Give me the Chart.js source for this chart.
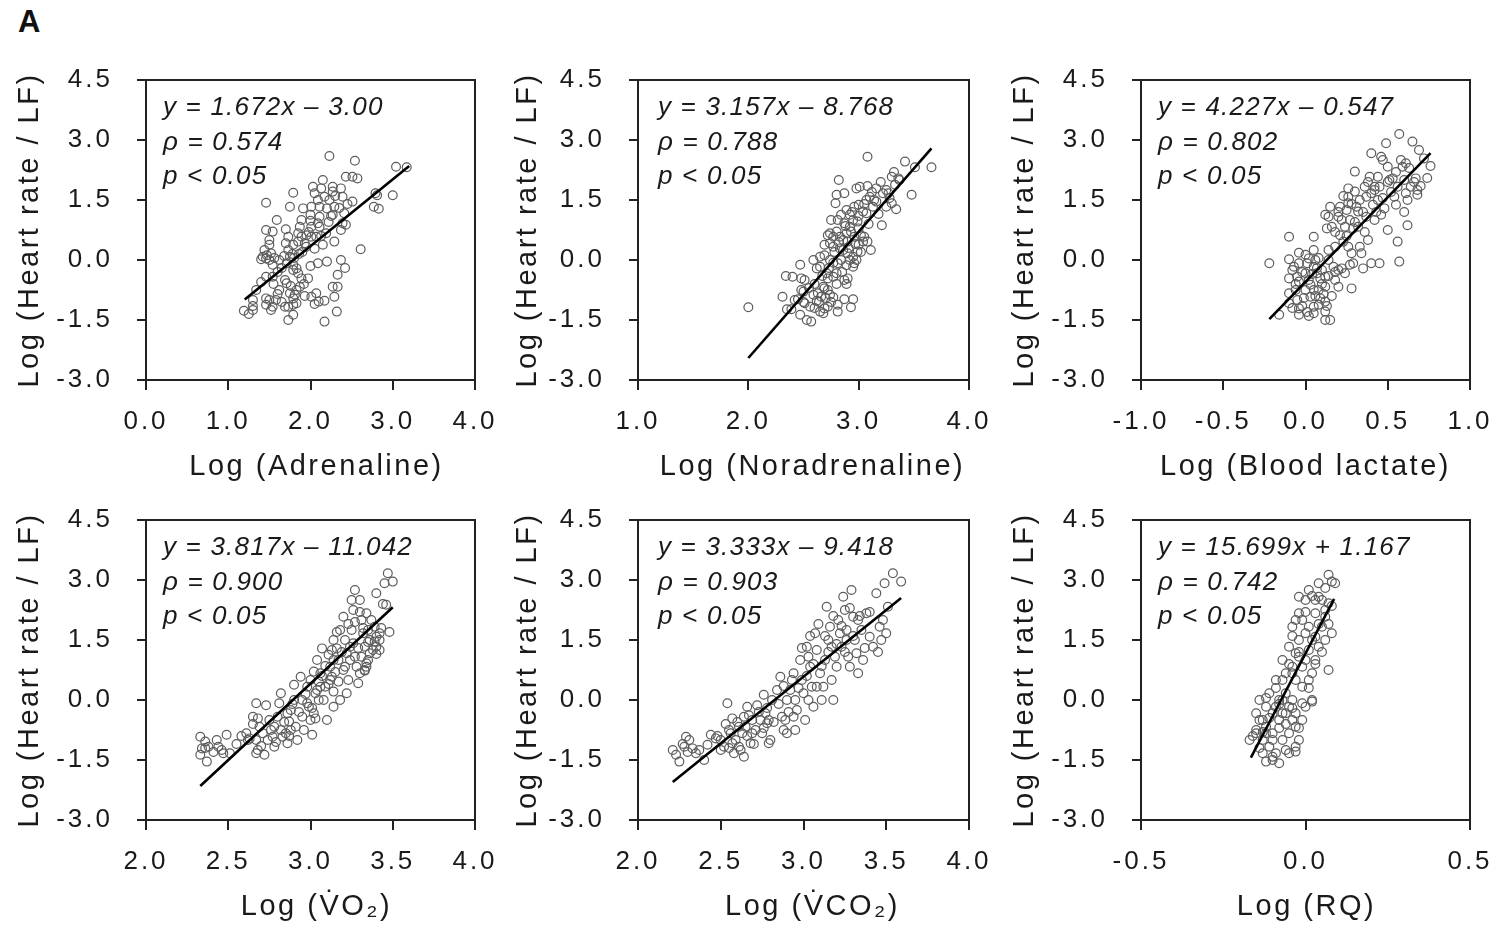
<!DOCTYPE html>
<html><head><meta charset="utf-8">
<script src="https://cdn.jsdelivr.net/npm/chart.js@4/dist/chart.umd.min.js"></script>
<style>
html,body{margin:0;padding:0;background:#fff;}
body{width:1496px;height:931px;position:relative;overflow:hidden;}
canvas{position:absolute;}
#lab{position:absolute;left:18px;top:6px;font:bold 31px "Liberation Sans",Arial,sans-serif;line-height:31px;color:#111;}
</style></head><body>
<div id="lab">A</div>
<canvas id="c1" width="500" height="490" style="left:0px;top:0px"></canvas>
<canvas id="c2" width="502" height="490" style="left:492px;top:0px"></canvas>
<canvas id="c3" width="500" height="490" style="left:995px;top:0px"></canvas>
<canvas id="c4" width="500" height="490" style="left:0px;top:440px"></canvas>
<canvas id="c5" width="502" height="490" style="left:492px;top:440px"></canvas>
<canvas id="c6" width="500" height="490" style="left:995px;top:440px"></canvas>
<script>
// ---------- shared ----------
const yTickValues = [-3.0, -1.5, 0.0, 1.5, 3.0, 4.5];
const yAxisTitle = 'Log (Heart rate / LF)';

// ---------- Panel 1: Adrenaline ----------
const adrenalineTicks = [0.0, 1.0, 2.0, 3.0, 4.0];
const adrenalineX = [2.23,2.54,3.04,3.17,2.43,2.51,2.57,2.15,2.03,2.13,2.27,2.37,1.79,2.79,3.0,2.05,2.17,2.27,2.39,1.46,1.75,2.09,2.23,2.51,2.77,2.83,1.91,2.01,2.11,2.2,2.29,2.27,2.41,2.0,2.11,1.89,2.0,2.09,1.59,2.39,2.43,1.87,2.01,2.11,2.19,2.37,1.46,1.54,1.7,1.73,1.85,1.89,1.95,2.01,2.07,1.85,1.95,2.29,2.15,1.5,1.5,1.7,1.79,2.61,1.44,1.52,1.42,1.46,1.73,1.75,1.4,1.5,1.62,1.71,1.79,1.83,2.0,2.2,2.37,2.09,1.54,1.79,1.85,1.89,1.97,1.46,1.54,1.69,1.71,2.33,1.87,1.83,2.27,2.33,1.62,1.34,1.75,1.81,2.01,2.07,2.29,1.3,1.46,1.5,1.58,1.79,2.1,2.17,1.46,1.54,1.3,1.69,1.73,1.79,1.83,1.19,1.25,1.3,1.52,1.79,2.32,1.73,2.17,2.81,1.9,1.78,1.92,1.6,
  1.47,1.56,1.65,1.68,1.8,1.86,1.93,1.98,2.05,2.13,2.22,2.25,2.3,2.45,2.35,1.6,1.65,1.76,1.93,2.05,1.4,1.55,2.42];
const adrenalineY = [2.6,2.48,2.33,2.32,2.08,2.08,2.04,2.0,1.83,1.79,1.83,1.79,1.68,1.67,1.62,1.67,1.58,1.71,1.58,1.43,1.33,1.5,1.5,1.46,1.33,1.28,1.29,1.33,1.33,1.29,1.33,1.13,1.17,1.13,1.08,1.0,0.98,0.92,1.0,0.92,0.88,0.83,0.83,0.83,0.67,0.75,0.75,0.71,0.77,0.58,0.67,0.58,0.62,0.58,0.58,0.46,0.33,0.46,0.38,0.5,0.38,0.42,0.38,0.27,0.25,0.17,0.08,0.04,0.25,0.08,0.02,0.0,0.0,-0.08,-0.12,-0.21,-0.15,-0.04,0.0,-0.08,-0.12,-0.25,-0.33,-0.46,-0.46,-0.42,-0.42,-0.5,-0.58,-0.37,-0.67,-0.75,-0.67,-0.67,-0.75,-0.75,-0.83,-0.87,-0.92,-0.83,-0.92,-1.0,-0.96,-1.0,-1.0,-0.96,-1.04,-1.02,-1.12,-1.17,-1.15,-1.17,-1.17,-1.12,-1.08,-1.27,-1.35,-1.25,-1.25,-1.37,-1.29,-1.5,-1.54,1.62,0.2,0.15,-0.6,-0.3,
  0.12,0.05,-0.2,0.1,0.05,0.15,0.42,0.7,0.28,0.6,0.95,1.1,1.6,1.4,1.3,-0.85,-1.05,-0.65,-0.9,-1.1,-0.55,-0.6,-0.2];
const adrenalineFitX = [1.20, 3.20];
const adrenalineFitY = [-0.99, 2.35];
const adrenalineStats = ['y = 1.672x \u2013 3.00', '\u03C1 = 0.574', 'p < 0.05'];

// ---------- Panel 2: Noradrenaline ----------
const noradrenalineTicks = [1.0, 2.0, 3.0, 4.0];
const noradrenalineX = [2.0,2.31,2.34,2.4,2.47,2.59,2.48,2.51,2.35,2.39,2.42,2.45,2.48,2.5,2.47,2.53,2.57,2.51,2.56,2.6,2.59,2.63,2.66,2.65,2.68,2.62,2.69,2.72,2.68,2.69,2.72,2.74,2.77,2.81,2.81,2.87,2.93,2.95,2.72,2.71,2.65,2.62,2.77,2.8,2.87,2.9,2.89,2.65,2.69,2.74,2.77,2.81,2.84,2.89,2.92,2.95,2.96,2.98,2.95,2.69,2.74,2.77,2.83,2.86,2.9,2.99,3.0,3.04,3.08,3.11,2.72,2.74,2.77,2.8,2.83,2.86,2.89,2.93,2.96,3.02,3.05,2.75,2.81,2.87,2.95,2.92,2.99,3.0,2.84,2.89,2.92,2.96,3.0,3.04,3.07,3.07,3.1,3.14,3.16,3.21,3.25,3.34,3.3,3.16,3.22,3.25,3.08,2.98,3.01,3.3,3.36,3.37,3.42,3.51,3.66,3.48,3.08,2.82,2.8,2.79,2.87,3.27,3.33,3.13,2.9,
  2.6,2.64,2.67,2.7,2.73,2.75,2.78,2.8,2.82,2.85,2.88,2.91,2.94,2.97,3.0,3.02,3.05,3.09,3.12,3.18,3.2,3.28,3.32,2.55,2.5];
const noradrenalineY = [-1.18,-0.92,-0.4,-0.42,-0.12,0.0,-0.46,-0.5,-1.23,-1.23,-1.0,-0.98,-0.75,-0.79,-1.37,-1.5,-1.54,-1.08,-1.17,-1.2,-0.87,-0.83,-0.92,-1.29,-1.33,-1.02,-1.21,-1.17,-0.67,-0.71,-0.75,-0.87,-0.93,-1.29,-1.12,-0.98,-1.18,-0.98,-0.46,-0.33,-0.17,-0.21,-0.42,-0.33,-0.5,-0.46,-0.6,0.08,0.12,0.0,-0.07,-0.08,0.0,-0.13,0.0,0.08,-0.08,0.0,-0.17,0.38,0.42,0.33,0.29,0.25,0.17,0.21,0.38,0.46,0.46,0.25,0.62,0.67,0.58,0.71,0.58,0.5,0.67,0.71,0.58,0.62,0.58,1.0,1.0,0.92,1.0,0.83,0.96,0.79,1.13,1.25,1.13,1.33,1.38,1.21,1.17,1.5,1.58,1.5,1.46,0.87,1.33,1.27,1.42,1.79,1.67,1.75,1.85,1.79,1.83,2.08,2.04,2.0,2.46,2.32,2.32,1.63,2.58,2.0,1.63,1.42,1.67,1.67,1.88,1.33,0.46,
  -0.6,-1.05,-0.4,-0.95,-0.2,-1.05,0.2,-0.6,0.45,-0.3,0.85,0.3,1.2,0.4,1.1,0.2,1.4,0.9,1.7,1.15,1.95,1.55,2.2,-0.7,-1.05];
const noradrenalineFitX = [2.00, 3.66];
const noradrenalineFitY = [-2.45, 2.79];
const noradrenalineStats = ['y = 3.157x \u2013 8.768', '\u03C1 = 0.788', 'p < 0.05'];

// ---------- Panel 3: Blood lactate ----------
const lactateTicks = [-1.0, -0.5, 0.0, 0.5, 1.0];
const lactateX = [-0.22,-0.16,-0.1,-0.1,-0.1,-0.1,-0.1,-0.07,-0.04,-0.04,-0.05,-0.04,-0.06,-0.05,-0.04,-0.04,0.0,0.01,0.02,0.0,0.02,0.0,0.03,0.05,0.05,0.05,0.05,0.05,0.05,0.09,0.08,0.09,0.08,0.12,0.13,0.12,0.12,0.12,0.12,0.12,0.15,0.14,0.14,0.15,0.16,0.18,0.17,0.2,0.21,0.22,0.24,0.21,0.23,0.22,0.24,0.2,0.26,0.26,0.25,0.27,0.29,0.26,0.28,0.27,0.29,0.28,0.3,0.3,0.31,0.32,0.33,0.34,0.35,0.36,0.37,0.37,0.38,0.39,0.4,0.4,0.41,0.42,0.4,0.44,0.45,0.45,0.46,0.47,0.49,0.5,0.46,0.48,0.5,0.53,0.54,0.55,0.56,0.56,0.57,0.57,0.58,0.59,0.61,0.62,0.6,0.61,0.62,0.64,0.65,0.69,0.67,0.68,0.68,0.72,0.76,0.14,0.2,0.06,0.18,0.32,0.26,0.42,0.51,0.44,0.07,
  -0.08,-0.06,-0.02,-0.01,0.01,0.03,0.04,0.06,0.07,0.08,0.1,0.1,0.11,0.13,0.14,-0.08,-0.02,0.02,0.16,0.18,0.18,0.2,0.23,0.25,0.28,0.3,0.33,0.35,0.36,0.38,0.42,0.43,0.47,0.5,0.52,0.55,0.6,0.63,0.66,0.7,0.74];
const lactateY = [-0.08,-1.37,0.58,0.02,-0.46,-0.83,-1.08,-0.17,0.18,-0.08,-0.42,-0.54,-0.75,-1.0,-1.21,-1.37,0.13,-0.08,0.04,-0.33,-0.5,-0.75,-0.92,0.58,0.25,-0.17,-0.75,-1.17,-1.33,-0.46,-0.75,-0.96,-1.12,1.13,0.79,-0.42,-0.67,-1.04,-1.29,-1.5,-1.5,0.25,0.0,1.33,0.83,0.33,-0.17,-0.67,1.33,1.0,0.83,0.62,0.46,-0.21,-0.33,-0.25,1.79,1.58,1.25,1.0,0.79,0.33,0.17,-0.12,-0.08,-0.71,2.21,1.71,1.33,1.21,0.33,0.17,-0.21,1.83,1.58,1.08,0.5,2.08,1.67,-0.08,1.38,1.0,2.67,2.08,1.83,-0.08,2.58,2.5,2.92,2.33,1.13,1.29,0.75,2.04,1.58,1.38,1.83,0.46,-0.04,3.15,2.5,2.33,2.42,0.87,2.0,1.67,1.5,1.83,2.96,2.75,2.04,1.75,1.63,2.54,2.35,1.08,1.08,0.0,-0.5,0.83,1.42,1.83,2.0,1.5,-0.33,
  -0.25,-0.6,-0.3,-0.95,-1.3,-0.62,-0.35,-0.9,-0.2,0.05,-0.25,-0.6,-0.85,-1.15,-0.4,-1.2,-1.15,-1.4,-0.9,-0.3,0.7,1.2,1.6,0.6,1.4,0.95,1.5,1.2,0.7,1.95,1.75,1.2,1.55,1.95,1.7,2.2,1.2,2.3,1.95,1.85,2.05];
const lactateFitX = [-0.22, 0.76];
const lactateFitY = [-1.48, 2.67];
const lactateStats = ['y = 4.227x \u2013 0.547', '\u03C1 = 0.802', 'p < 0.05'];

// ---------- Panel 4: VO2 ----------
const vo2Ticks = [2.0, 2.5, 3.0, 3.5, 4.0];
const vo2X = [2.33,2.36,2.38,2.33,2.34,2.37,2.43,2.44,2.49,2.47,2.46,2.51,2.61,2.62,2.63,2.65,2.67,2.68,2.67,2.68,2.67,2.69,2.71,2.72,2.73,2.74,2.77,2.78,2.76,2.8,2.81,2.82,2.82,2.83,2.85,2.86,2.86,2.88,2.87,2.9,2.9,2.91,2.92,2.94,2.95,2.95,2.96,2.98,2.99,3.0,3.01,3.02,3.03,3.02,3.03,3.04,3.06,3.05,3.07,3.08,3.09,3.1,3.11,3.12,3.13,3.14,3.14,3.14,3.16,3.17,3.17,3.18,3.18,3.2,3.21,3.22,3.21,3.23,3.22,3.25,3.26,3.25,3.26,3.27,3.28,3.29,3.27,3.3,3.31,3.32,3.33,3.31,3.3,3.34,3.35,3.36,3.34,3.36,3.39,3.4,3.39,3.38,3.4,3.42,3.42,3.4,3.45,3.46,3.5,3.47,3.33,3.34,3.05,3.12,3.14,3.24,2.98,2.88,2.78,3.06,
  2.65,2.7,2.75,2.79,2.84,2.87,2.89,2.93,2.97,3.0,3.01,3.04,3.07,3.09,3.11,3.13,3.15,3.16,3.19,3.2,3.23,3.24,3.27,3.29,3.3,3.32,3.35,3.37,3.4,3.43,3.44,3.48,2.58,2.55,2.41,2.36,3.33,3.35,3.42];
const vo2Y = [-0.92,-1.04,-1.17,-1.37,-1.21,-1.54,-1.0,-1.17,-0.87,-1.33,-1.25,-1.33,-0.83,-1.0,-0.96,-0.42,-0.08,-0.46,-1.0,-1.25,-1.33,-0.67,-0.83,-1.37,-0.13,-1.0,-0.92,-1.17,-0.75,-0.42,-0.08,0.17,-0.75,-0.92,-0.83,-1.08,-0.33,-0.25,-0.54,0.38,0.0,-0.67,-1.0,0.58,0.0,-0.42,-0.75,0.33,-0.17,-0.5,-0.87,0.71,0.17,-0.33,-0.46,1.0,0.67,0.46,1.29,0.0,0.33,-0.5,1.13,0.83,0.58,0.21,-0.17,1.5,1.29,1.0,0.46,0.0,1.75,2.08,1.5,1.17,0.83,0.5,0.17,2.5,2.25,1.75,1.42,1.08,0.83,0.42,2.75,2.5,2.0,1.67,1.33,1.08,0.67,2.17,1.75,1.17,0.83,1.5,1.83,1.58,1.46,1.25,2.67,1.67,1.5,1.33,2.92,2.38,2.96,3.17,0.73,0.92,0.0,0.5,1.0,1.33,-0.08,-0.75,-0.67,0.33,
  -0.6,-1.15,-0.5,-1.05,-0.55,-0.9,-0.1,-0.3,0.15,0.5,-0.2,0.25,0.6,0.85,0.4,1.25,0.7,1.7,1.2,0.75,1.9,1.0,1.95,1.3,2.2,1.8,1.45,2.0,1.15,1.8,2.4,1.7,-0.9,-1.1,-1.3,-1.2,0.75,1.0,1.25];
const vo2FitX = [2.33, 3.50];
const vo2FitY = [-2.15, 2.32];
const vo2Stats = ['y = 3.817x \u2013 11.042', '\u03C1 = 0.900', 'p < 0.05'];

// ---------- Panel 5: VCO2 ----------
const vco2Ticks = [2.0, 2.5, 3.0, 3.5, 4.0];
const vco2X = [2.21,2.23,2.25,2.29,2.31,2.28,2.33,2.35,2.37,2.4,2.44,2.5,2.52,2.54,2.55,2.57,2.58,2.59,2.56,2.61,2.63,2.64,2.65,2.66,2.67,2.68,2.69,2.71,2.72,2.74,2.75,2.76,2.77,2.78,2.79,2.8,2.81,2.84,2.86,2.87,2.88,2.89,2.9,2.92,2.94,2.95,2.95,2.96,2.98,2.99,3.0,3.01,3.02,3.03,3.04,3.05,3.06,3.07,3.08,3.1,3.11,3.12,3.13,3.14,3.15,3.16,3.17,3.18,3.19,3.2,3.21,3.22,3.23,3.24,3.25,3.26,3.27,3.28,3.29,3.3,3.31,3.32,3.33,3.35,3.36,3.38,3.4,3.42,3.44,3.46,3.47,3.49,3.5,3.51,3.54,3.59,2.42,2.47,2.57,2.61,2.69,2.9,3.03,3.08,3.17,3.26,3.33,2.94,2.79,2.64,
  2.27,2.3,2.48,2.5,2.53,2.55,2.6,2.62,2.66,2.7,2.73,2.76,2.78,2.82,2.85,2.88,2.91,2.93,2.97,2.99,3.02,3.04,3.06,3.09,3.11,3.13,3.15,3.18,3.2,3.23,3.25,3.28,3.3,3.34,3.37,3.4,3.45,3.48];
const vco2Y = [-1.25,-1.37,-1.54,-0.92,-1.0,-1.17,-1.21,-1.33,-1.25,-1.5,-0.87,-1.0,-1.17,-0.08,-0.75,-0.46,-1.33,-1.0,-0.83,-1.17,-0.83,-1.42,-0.67,-0.17,-0.38,-1.08,-0.5,-0.75,-0.13,-0.5,-0.83,0.13,-0.33,-0.58,-1.08,-1.0,0.0,0.25,0.58,-0.42,-0.75,-0.5,-0.83,0.25,0.67,0.0,-0.75,-0.25,1.0,0.5,0.17,-0.5,1.33,1.08,0.83,0.33,-0.17,1.67,1.25,0.67,0.0,0.33,1.0,2.33,1.5,1.83,0.5,0.0,1.08,0.83,2.0,1.67,1.33,2.58,2.25,1.75,1.08,0.83,2.75,2.08,1.5,1.17,0.67,1.75,1.0,2.17,1.58,1.33,2.67,1.83,1.5,2.92,1.67,2.33,3.17,2.96,-1.12,-0.96,-1.08,-0.67,-0.83,0.0,0.0,0.33,1.33,1.5,2.0,-0.42,-0.5,-0.42,
  -1.1,-1.3,-0.9,-1.25,-0.6,-1.2,-0.55,-1.25,-0.9,-1.1,-0.3,-0.7,-0.2,-0.55,-0.1,0.35,-0.3,0.5,0.3,1.3,0.6,1.6,0.9,1.9,0.85,1.6,1.2,2.1,1.4,1.85,1.2,2.3,1.6,2.1,1.3,2.2,1.2,2.0];
const vco2FitX = [2.21, 3.59];
const vco2FitY = [-2.05, 2.55];
const vco2Stats = ['y = 3.333x \u2013 9.418', '\u03C1 = 0.903', 'p < 0.05'];

// ---------- Panel 6: RQ ----------
const rqTicks = [-0.5, 0.0, 0.5];
const rqX = [-0.17,-0.15,-0.15,-0.14,-0.14,-0.13,-0.13,-0.12,-0.12,-0.11,-0.11,-0.1,-0.1,-0.09,-0.09,-0.08,-0.08,-0.07,-0.07,-0.06,-0.06,-0.05,-0.05,-0.04,-0.04,-0.03,-0.03,-0.04,-0.02,-0.02,-0.01,-0.01,0.0,-0.02,-0.02,0.0,0.01,0.01,0.02,0.02,0.01,0.03,0.03,0.04,0.04,0.05,0.06,0.06,0.07,0.08,0.08,0.07,0.07,0.09,-0.08,-0.12,-0.1,-0.05,-0.03,-0.07,-0.06,-0.03,-0.07,-0.09,-0.03,-0.01,0.02,0.01,0.03,0.04,-0.05,-0.04,-0.02,0.0,-0.03,0.03,0.06,-0.15,-0.12,-0.04,
  -0.16,-0.14,-0.13,-0.12,-0.11,-0.1,-0.09,-0.08,-0.07,-0.06,-0.05,-0.04,-0.04,-0.03,-0.02,-0.01,-0.01,0.0,0.0,0.01,0.02,0.02,0.03,0.04,0.05,0.05,0.06,0.07,0.08,-0.06,-0.1,-0.13,-0.08,-0.02];
const rqY = [-1.0,-0.75,-0.33,0.0,-0.5,-1.0,-1.33,-0.17,-0.67,-1.17,0.17,-0.33,-0.83,-1.33,0.5,0.0,-0.5,-1.0,1.0,0.17,-0.33,-0.83,1.33,0.67,0.0,-0.67,-1.17,1.83,2.17,1.5,0.83,0.33,-0.17,-1.0,2.58,2.5,1.83,1.25,0.67,0.0,2.75,2.17,1.58,2.58,2.92,1.83,2.25,1.5,2.42,1.67,2.96,3.13,0.75,2.92,-1.58,-1.54,-1.42,-1.33,-1.29,0.0,0.67,1.17,-0.33,-0.17,-0.33,-0.08,-0.04,0.5,1.0,1.33,-0.17,0.83,1.08,1.67,2.0,2.5,2.08,-0.83,-0.83,-0.5,
  -0.9,-1.2,-0.5,0.05,-0.45,-1.0,0.3,-0.7,0.5,-0.6,0.9,-0.2,1.6,0.5,1.2,2.0,-0.5,1.0,2.2,0.3,1.5,2.6,0.9,1.9,2.5,1.2,2.8,1.9,2.35,-1.25,-1.5,-0.8,-0.1,-0.7];
const rqFitX = [-0.166, 0.087];
const rqFitY = [-1.44, 2.53];
const rqStats = ['y = 15.699x + 1.167', '\u03C1 = 0.742', 'p < 0.05'];

// ---------- styling ----------
const FONT = '"Liberation Sans", Arial, sans-serif';
const TICK_SIZE = 26, TITLE_SIZE = 29, EQ_SIZE = 26;
const TICK_LS = '3px', TITLE_LS = '2.5px', EQ_LS = '1.2px';
const INK = '#1a1a1a';

function fmt(v){ const s = Number(v).toFixed(1); return s === '-0.0' ? '0.0' : s; }

const spacingPlugin = {
  id: 'spacing',
  beforeUpdate(chart){ chart.ctx.letterSpacing = TICK_LS; },
  beforeLayout(chart){ chart.ctx.letterSpacing = TICK_LS; },
  beforeDraw(chart){ chart.ctx.letterSpacing = TICK_LS; }
};

const framePlugin = {
  id: 'frame',
  afterDraw(chart, args, opts){
    const ctx = chart.ctx, a = chart.chartArea;
    ctx.save();
    ctx.strokeStyle = '#222';
    ctx.lineWidth = 2;
    ctx.beginPath();
    ctx.moveTo(a.left, a.top);
    ctx.lineTo(a.right, a.top);
    ctx.lineTo(a.right, a.bottom);
    ctx.stroke();
    ctx.font = 'italic ' + EQ_SIZE + 'px ' + FONT;
    ctx.letterSpacing = EQ_LS;
    ctx.fillStyle = INK;
    ctx.textAlign = 'left';
    ctx.textBaseline = 'alphabetic';
    (opts.lines || []).forEach((t, i) => ctx.fillText(t, a.left + opts.dx, a.top + 35 + i * 34.5));
    ctx.restore();
  }
};

function fixScale(s, size, isX, shift){
  if (isX) s.height = size; else s.width = size;
  s.paddingLeft = 0; s.paddingRight = 0; s.paddingTop = 0; s.paddingBottom = 0;
  if (!s._titleWrapped){
    const orig = s.drawTitle.bind(s);
    s.drawTitle = function(){
      const c = this.ctx, prev = c.letterSpacing;
      c.save();
      c.letterSpacing = TITLE_LS;
      if (shift) c.translate(shift, 0);
      orig();
      c.restore();
      c.letterSpacing = prev;
    };
    s._titleWrapped = true;
  }
}

function makePanel(id, xTitle, xTicks, xs, ys, fitX, fitY, stats, yPad, eqDx, xShift){
  const n = Math.min(xs.length, ys.length);
  const pts = xs.slice(0, n).map((x, i) => ({x: x, y: ys[i]}));
  const fit = fitX.map((x, i) => ({x: x, y: fitY[i]}));
  new Chart(document.getElementById(id), {
    type: 'scatter',
    data: {
      datasets: [
        {type: 'line', data: fit, borderColor: '#000', borderWidth: 2.6, pointRadius: 0, fill: false, tension: 0},
        {type: 'scatter', data: pts, pointRadius: 4.4, borderWidth: 1.2, borderColor: '#5c5c5c', backgroundColor: 'rgba(255,255,255,0)'}
      ]
    },
    options: {
      responsive: false,
      animation: false,
      events: [],
      layout: {padding: {top: 80, right: 25, bottom: 0, left: 0}},
      plugins: {legend: {display: false}, tooltip: {enabled: false}, frame: {lines: stats, dx: eqDx}},
      scales: {
        x: {
          type: 'linear', position: 'bottom',
          min: xTicks[0], max: xTicks[xTicks.length - 1],
          afterBuildTicks: s => { s.ticks = xTicks.map(v => ({value: v})); },
          afterFit: s => fixScale(s, 110, true, xShift),
          ticks: {font: {family: FONT, size: TICK_SIZE}, color: INK, padding: 16, maxRotation: 0, autoSkip: false, callback: v => fmt(v)},
          grid: {drawOnChartArea: false, drawTicks: true, tickLength: 10, color: '#222', lineWidth: 2},
          border: {display: true, color: '#222', width: 2},
          title: {display: true, text: xTitle, font: {family: FONT, size: TITLE_SIZE}, color: INK, padding: {top: 0, bottom: 6}}
        },
        y: {
          type: 'linear', position: 'left',
          min: -3.0, max: 4.5,
          afterBuildTicks: s => { s.ticks = yTickValues.map(v => ({value: v})); },
          afterFit: s => fixScale(s, 146, false, 0),
          ticks: {font: {family: FONT, size: TICK_SIZE}, color: INK, padding: 24, autoSkip: false, callback: v => fmt(v)},
          grid: {drawOnChartArea: false, drawTicks: true, tickLength: 9, color: '#222', lineWidth: 2},
          border: {display: true, color: '#222', width: 2},
          title: {display: true, text: yAxisTitle, font: {family: FONT, size: TITLE_SIZE}, color: INK, padding: {top: yPad, bottom: 0}}
        }
      }
    },
    plugins: [spacingPlugin, framePlugin]
  });
}

makePanel('c1', 'Log (Adrenaline)', adrenalineTicks, adrenalineX, adrenalineY, adrenalineFitX, adrenalineFitY, adrenalineStats, 13, 17, 6);
makePanel('c2', 'Log (Noradrenaline)', noradrenalineTicks, noradrenalineX, noradrenalineY, noradrenalineFitX, noradrenalineFitY, noradrenalineStats, 19, 20, 9);
makePanel('c3', 'Log (Blood lactate)', lactateTicks, lactateX, lactateY, lactateFitX, lactateFitY, lactateStats, 13, 17, 0);
makePanel('c4', 'Log (V\u0307O\u2082)', vo2Ticks, vo2X, vo2Y, vo2FitX, vo2FitY, vo2Stats, 13, 17, 6);
makePanel('c5', 'Log (V\u0307CO\u2082)', vco2Ticks, vco2X, vco2Y, vco2FitX, vco2FitY, vco2Stats, 19, 20, 9);
makePanel('c6', 'Log (RQ)', rqTicks, rqX, rqY, rqFitX, rqFitY, rqStats, 13, 17, 1);
</script>
</body></html>
